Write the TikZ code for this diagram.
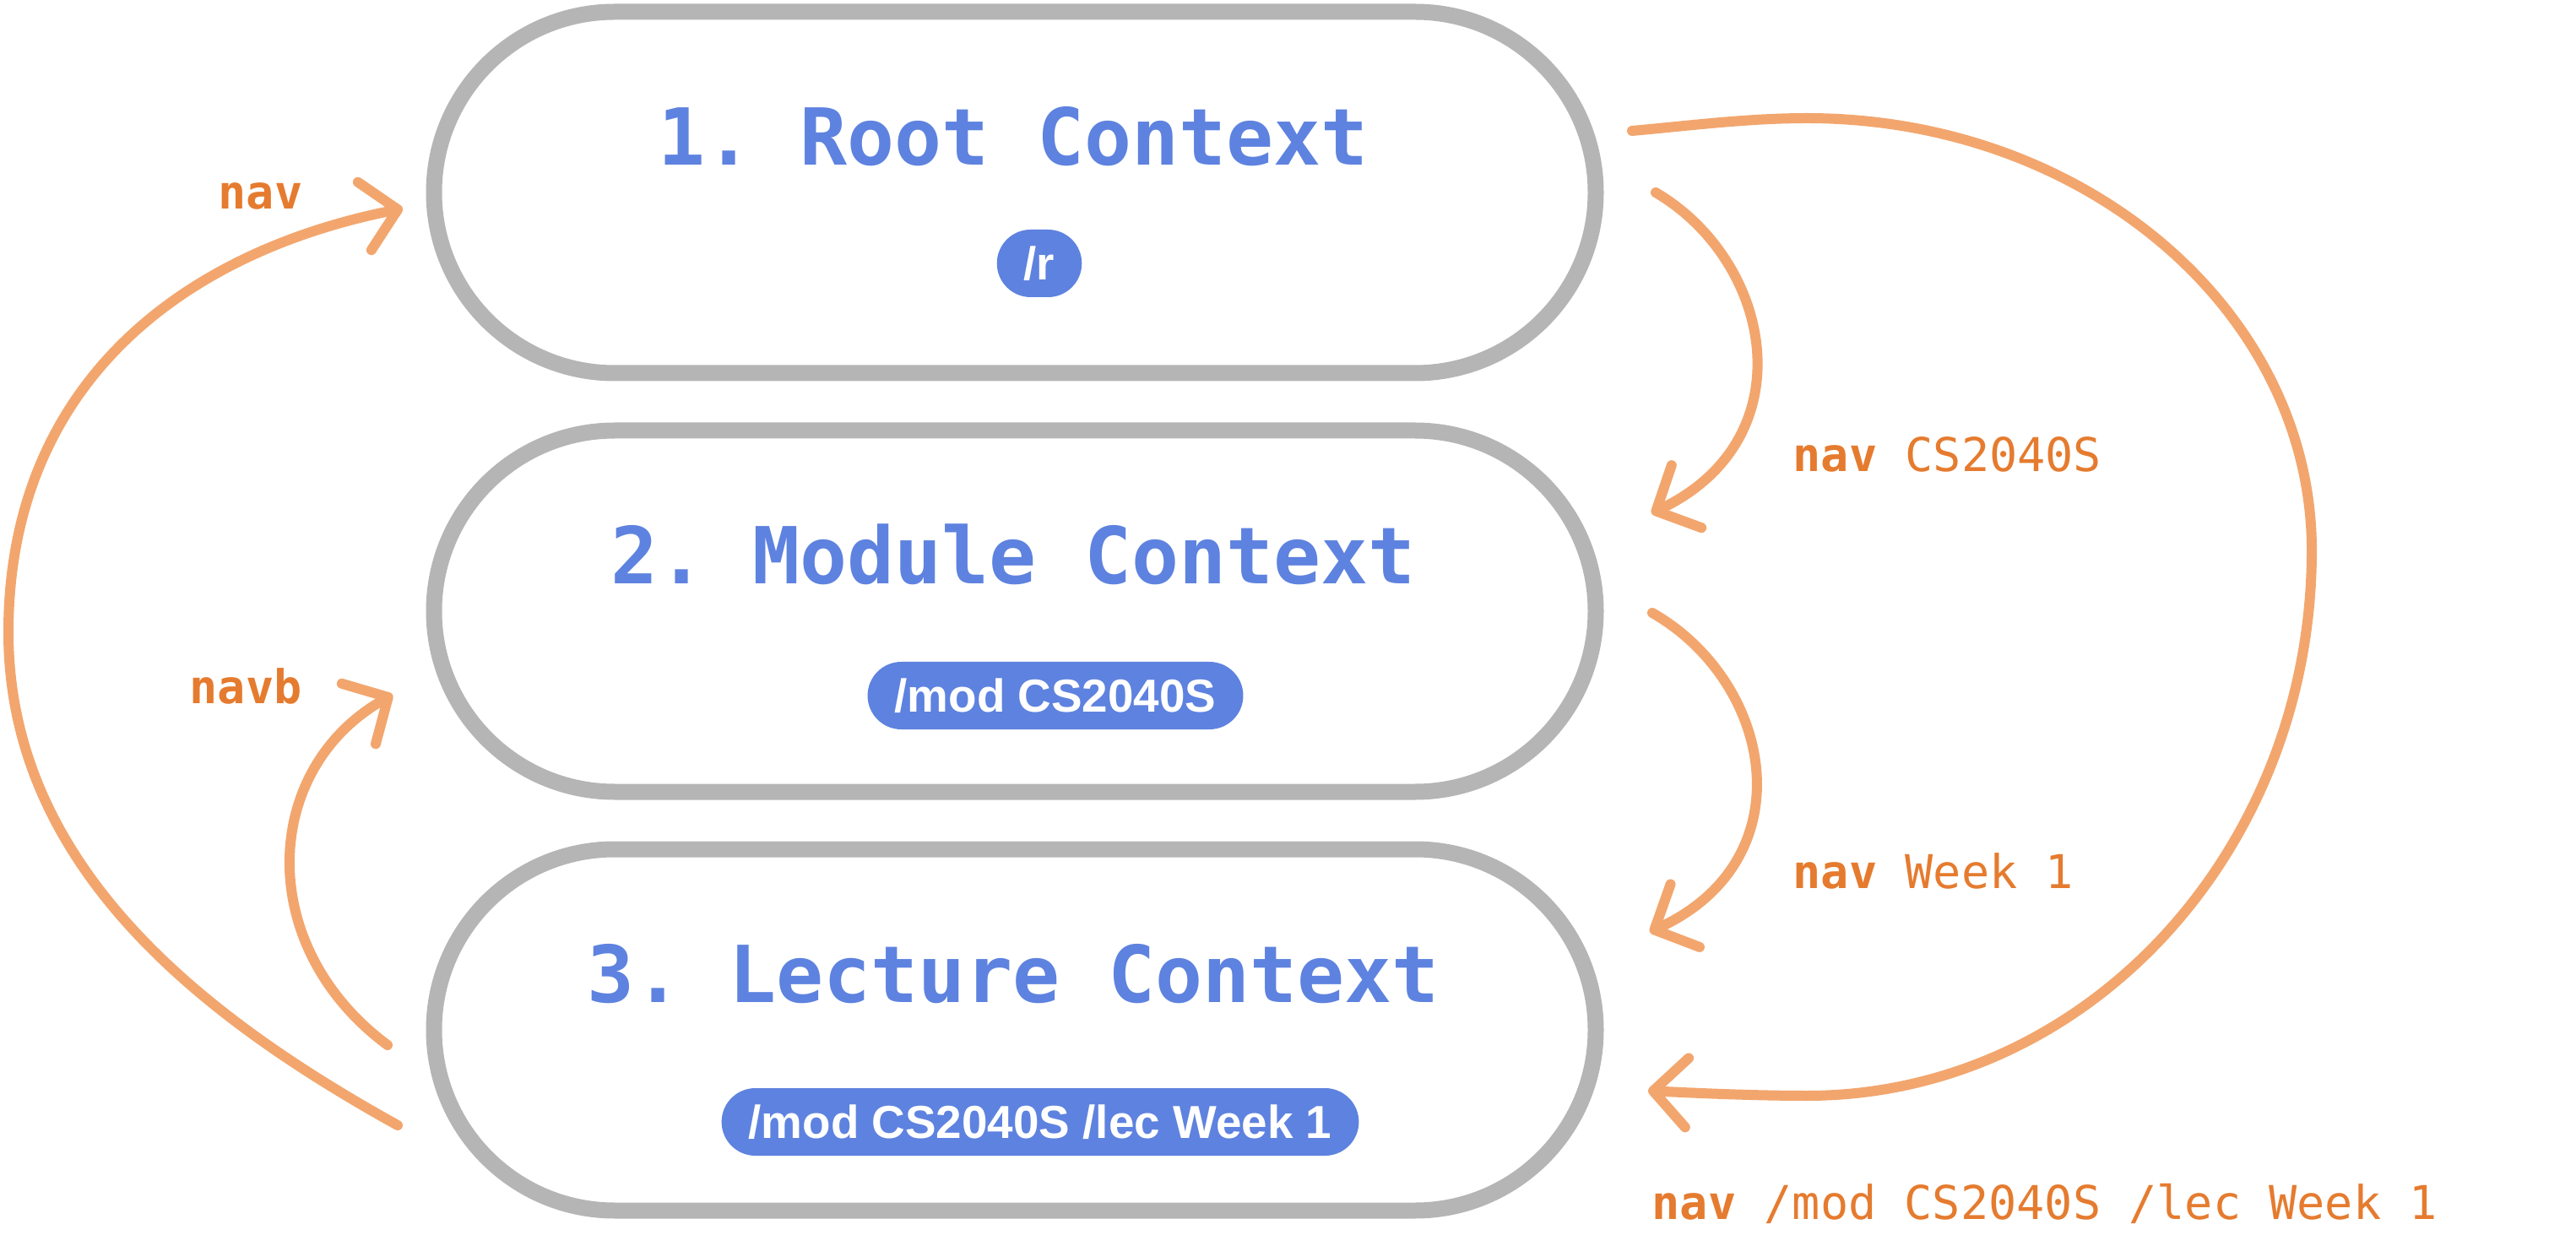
\documentclass[tikz,border=0pt]{standalone}
\usepackage{fontspec}
\setmainfont{Liberation Sans}
\setmonofont{DejaVu Sans Mono}
\usepackage{tikz}
\usetikzlibrary{arrows.meta, calc, positioning}
\usepackage{xcolor}
\definecolor{ctxblue}{HTML}{5E82DF}
\definecolor{ctxgray}{HTML}{B5B5B5}
\definecolor{navline}{HTML}{F2A66E}
\definecolor{navtext}{HTML}{E57B2F}

\begin{document}
\begin{tikzpicture}
        \tikzstyle{context}=[draw=ctxgray, line width=0.19cm, rounded corners=2.14cm, minimum width=13.76cm, minimum height=4.28cm, inner sep=0pt]
        \tikzstyle{heading}=[text=ctxblue, font=\ttfamily\bfseries\fontsize{26.5}{30}\selectfont, anchor=base, inner sep=0pt]
        \tikzstyle{badge}=[fill=ctxblue, text=white, font=\bfseries\fontsize{15.6}{18}\selectfont, rounded corners=0.4cm, minimum height=0.8cm, inner xsep=0.32cm, inner ysep=0pt, text height=11.2pt, text depth=0pt]
        \tikzstyle{navarrow}=[draw=navline, line width=0.12cm, line cap=round, -{Straight Barb[length=0.4cm, width=0.82cm, round]}]
        \tikzstyle{cmd}=[text=navtext, font=\ttfamily\fontsize{15.7}{18}\selectfont, anchor=base west, inner sep=0pt]

        \useasboundingbox (0,0) rectangle (30.51,-14.76);

        % Context boxes
        \node[context] (root) at (12.02,-2.28) {};
        \node[context] (module) at (12.02,-7.24) {};
        \node[context] (lecture) at (12.02,-12.20) {};

        % Headings
        \node[heading] (root-title) at ($(root.center)+(-0.02,0.32)$) {1. Root Context};
        \node[heading] (module-title) at ($(module.center)+(-0.02,0.32)$) {2. Module Context};
        \node[heading] (lecture-title) at ($(lecture.center)+(-0.02,0.33)$) {3. Lecture Context};

        % Badges
        \node[badge] (root-badge) at (12.31,-3.12) {/r};
        \node[badge] (module-badge) at (12.50,-8.24) {/mod CS2040S};
        \node[badge] (lecture-badge) at (12.32,-13.29) {/mod CS2040S /lec Week 1};

        % Arrow end points
        \coordinate (root-out) at (19.61,-2.28);
        \coordinate (root-far) at (19.33,-1.55);
        \coordinate (root-in) at (4.77,-2.47);
        \coordinate (module-out) at (19.57,-7.26);
        \coordinate (module-in) at (19.56,-6.08);
        \coordinate (module-back) at (4.65,-8.23);
        \coordinate (lecture-in) at (19.54,-11.04);
        \coordinate (lecture-far) at (19.52,-12.92);
        \coordinate (lecture-out) at (4.71,-13.33);
        \coordinate (lecture-back) at (4.59,-12.38);

        % Navigation arrows
        \draw[navarrow] (lecture-out) .. controls (2.44,-12.07) and (0.10,-10.29) .. (0.10,-7.49)
            .. controls (0.10,-4.6) and (2.1,-3.0) .. (root-in);
        \draw[navarrow] (lecture-back) .. controls (3.0,-11.2) and (3.1,-9.1) .. (module-back);
        \draw[navarrow] (root-out) .. controls (21.0,-3.1) and (21.4,-5.2) .. (module-in);
        \draw[navarrow] (module-out) .. controls (21.0,-8.08) and (21.4,-10.18) .. (lecture-in);
        \draw[navarrow] (root-far) .. controls (20.0,-1.49) and (20.7,-1.40) .. (21.4,-1.40)
            .. controls (24.7,-1.40) and (27.38,-3.69) .. (27.38,-6.52)
            .. controls (27.38,-10.09) and (24.7,-12.98) .. (21.4,-12.98)
            .. controls (20.8,-12.98) and (20.1,-12.95) .. (lecture-far);

        % Commands
        \node[cmd] (nav-root) at (2.58,-2.48) {\textbf{nav}};
        \node[cmd] (nav-back) at (2.24,-8.33) {\textbf{navb}};
        \node[cmd] (nav-module) at (21.23,-5.59) {\textbf{nav} CS2040S};
        \node[cmd] (nav-lecture) at (21.23,-10.52) {\textbf{nav} Week 1};
        \node[cmd] (nav-full) at (19.56,-14.44) {\textbf{nav} /mod CS2040S /lec Week 1};
\end{tikzpicture}
\end{document}
